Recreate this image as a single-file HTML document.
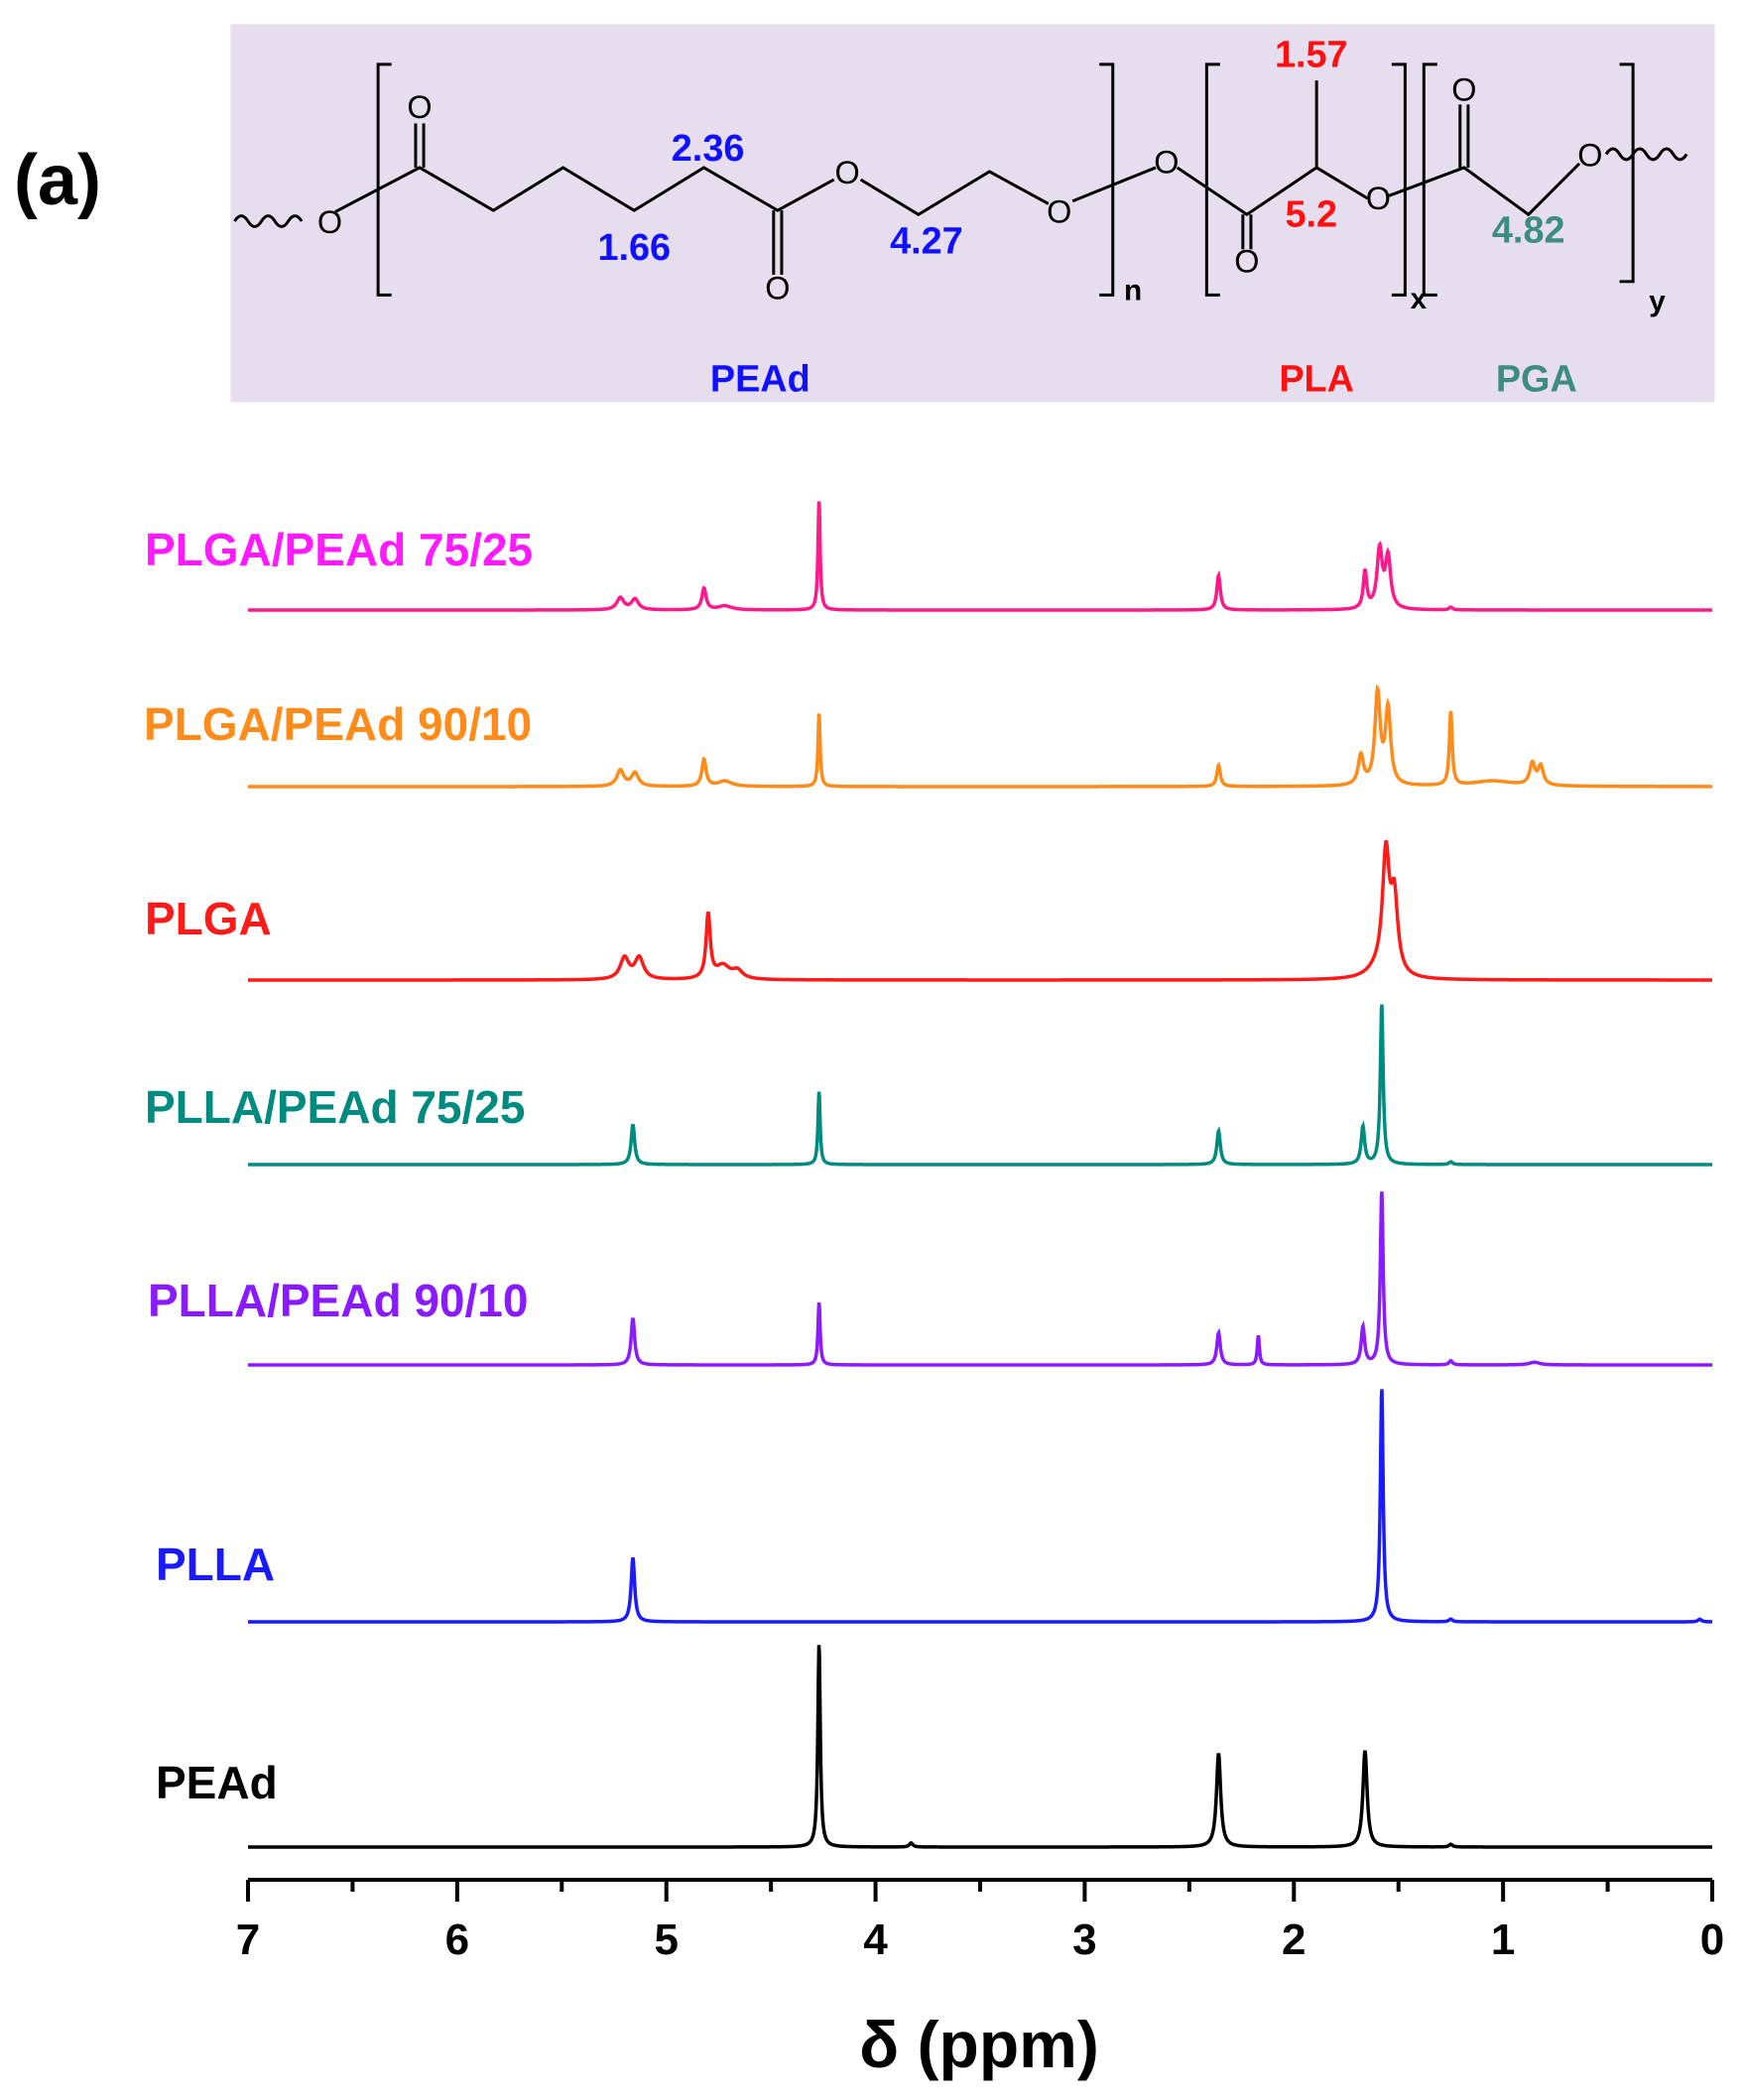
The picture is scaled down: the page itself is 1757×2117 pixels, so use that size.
<!DOCTYPE html>
<html><head><meta charset="utf-8"><style>
html,body{margin:0;padding:0;background:#fff;}
svg{display:block;font-family:"Liberation Sans",Arial,sans-serif;}
</style></head><body>
<svg id="chart" width="1757" height="2117" viewBox="0 0 1757 2117" xmlns="http://www.w3.org/2000/svg">
<g transform="scale(1.3515)">
  <rect x="172" y="18" width="1107" height="282" fill="#e6ddee"/>
  <g fill="none" stroke="#000" stroke-width="2.2">
    <path d="M175,165 q5,-8 10,0 q5,8 10,0 q5,-8 10,0 q5,8 10,0 q5,-8 10,0"/>
    <path d="M250,158 L313,125 L368,157 L420,125 L473,157 L525,125 L580,157 L622,134 M642,134 L685,160 L738,128 L782,152 M800,150 L862,125"/>
    <path d="M310,125 L310,92 M316,125 L316,92"/>
    <path d="M577,157 L577,205 M583,157 L583,205"/>
    <path d="M878,125 L930,160 L982,125 L1020,148 M982,125 L982,60 M1036,146 L1092,125 L1140,160 L1178,122"/>
    <path d="M927,160 L927,186 M933,160 L933,186"/>
    <path d="M1089,125 L1089,78 M1095,125 L1095,78"/>
    <path d="M1198,115 q5,-8 10,0 q5,8 10,0 q5,-8 10,0 q5,8 10,0 q5,-8 10,0 q5,8 10,0"/>
    <path d="M292,48 L282,48 L282,220 L292,220"/>
    <path d="M820,48 L830,48 L830,220 L820,220"/>
    <path d="M910,48 L900,48 L900,220 L910,220"/>
    <path d="M1038,48 L1048,48 L1048,220 L1038,220"/>
    <path d="M1072,48 L1062,48 L1062,220 L1072,220"/>
    <path d="M1208,48 L1218,48 L1218,210 L1208,210"/>
  </g>
  <g font-size="24" text-anchor="middle" fill="#000">
    <text x="246" y="174">O</text><text x="313" y="88">O</text><text x="580" y="223">O</text>
    <text x="632" y="137">O</text><text x="790" y="166">O</text><text x="870" y="129">O</text>
    <text x="930" y="203">O</text><text x="1028" y="156">O</text><text x="1092" y="75">O</text>
    <text x="1186" y="124">O</text>
    <text x="845" y="224" font-size="22" font-weight="bold">n</text><text x="1058" y="230" font-size="22" font-weight="bold">x</text><text x="1236" y="232" font-size="22" font-weight="bold">y</text>
  </g>
  <g font-size="28" font-weight="bold" text-anchor="middle">
    <text x="528" y="120" fill="#1010ff">2.36</text>
    <text x="473" y="194" fill="#1010ff">1.66</text>
    <text x="691" y="189" fill="#1010ff">4.27</text>
    <text x="978" y="50" fill="#ff1010">1.57</text>
    <text x="978" y="169" fill="#ff1010">5.2</text>
    <text x="1140" y="181" fill="#3d8c80">4.82</text>
    <text x="567" y="292" fill="#1010ff">PEAd</text>
    <text x="982" y="292" fill="#ff1010">PLA</text>
    <text x="1146" y="292" fill="#3d8c80">PGA</text>
  </g>
</g>
<text x="14" y="206" font-size="72" font-weight="bold">(a)</text>
<g id="spectra"></g>
<g id="axis"></g>
<text x="987" y="2084" font-size="66" font-weight="bold" text-anchor="middle">δ (ppm)</text>
</svg>
<script>
const seriesNames = ["PLGA/PEAd 75/25","PLGA/PEAd 90/10","PLGA","PLLA/PEAd 75/25","PLLA/PEAd 90/10","PLLA","PEAd"];
const seriesColors = ["#ff1a8c","#ff8c1a","#ff1a1a","#008b80","#8a1aff","#1a1aff","#000000"];
const labelColors = ["#ff1aff","#ff8c1a","#ff1a1a","#008b80","#8a1aff","#1a1aff","#000000"];
// peaks: [ppm, intensity, half-width ppm]
const peaks0 = [[5.22,9,0.02],[5.15,8,0.02],[4.82,16,0.012],[4.72,3,0.04],[4.27,82,0.006],[2.36,26,0.01],[1.66,28,0.01],[1.59,44,0.015],[1.55,38,0.015],[1.25,2,0.01]];
const peaks1 = [[5.22,12,0.02],[5.15,10,0.02],[4.82,20,0.012],[4.72,4,0.04],[4.27,55,0.006],[2.36,16,0.01],[1.68,22,0.015],[1.6,68,0.015],[1.55,56,0.015],[1.25,55,0.008],[1.05,4,0.12],[0.86,16,0.015],[0.82,14,0.015]];
const peaks2 = [[5.2,16,0.025],[5.13,16,0.025],[4.8,48,0.012],[4.73,10,0.04],[4.66,6,0.03],[1.56,88,0.02],[1.52,55,0.02],[1.6,6,0.06]];
const peaks3 = [[5.16,30,0.01],[4.27,55,0.006],[2.36,25,0.01],[1.67,28,0.01],[1.58,120,0.008],[1.25,2,0.01]];
const peaks4 = [[5.16,35,0.01],[4.27,47,0.006],[2.36,24,0.01],[2.17,22,0.006],[1.67,28,0.01],[1.58,130,0.008],[1.25,3,0.01],[0.85,2,0.03]];
const peaks5 = [[5.16,48,0.01],[1.58,175,0.008],[1.25,2,0.01],[0.06,2,0.01]];
const peaks6 = [[4.27,152,0.007],[3.83,3,0.01],[2.36,70,0.012],[1.66,72,0.012],[1.25,2,0.01]];
const allPeaks = [peaks0,peaks1,peaks2,peaks3,peaks4,peaks5,peaks6];
const baselines = [615,793,988,1174,1376,1635,1862];
const labelPos = [[146,570],[145,746],[146,942],[146,1132],[149,1327],[157,1593],[157,1813]];
const tickLabels = ["7","6","5","4","3","2","1","0"];
const xMin=0,xMax=7, X0=250, X1=1726;
const S=1.3515;
function xScale(p){return X0+(xMax-p)/(xMax-xMin)*(X1-X0);}
function yScale(base,v){return base-v*S;}
const NS="http://www.w3.org/2000/svg";
const g=document.getElementById('spectra');
allPeaks.forEach((pk,i)=>{
  let d="";
  for(let px=X0;px<=X1;px+=0.5){
    const p=xMax-(px-X0)/(X1-X0)*(xMax-xMin);
    let v=0; pk.forEach(([c,h,w])=>{const t=(p-c)/w; v+=h/(1+t*t);});
    d+=(d?"L":"M")+px.toFixed(1)+","+yScale(baselines[i],v).toFixed(2);
  }
  const path=document.createElementNS(NS,'path');
  
  
  path.setAttribute('d',d);path.setAttribute('fill','none');
  path.setAttribute('stroke',seriesColors[i]);path.setAttribute('stroke-width','3.5');
  g.appendChild(path);
  const t=document.createElementNS(NS,'text');
  
  
  t.setAttribute('x',labelPos[i][0]);t.setAttribute('y',labelPos[i][1]);
  t.setAttribute('font-size','46');t.setAttribute('font-weight','bold');
  t.setAttribute('fill',labelColors[i]);t.textContent=seriesNames[i];
  g.appendChild(t);
});
const ax=document.getElementById('axis');
const AY=1895;
let ad=`M${X0},${AY}L${X1},${AY}`;
for(let k=0;k<=14;k++){const p=k*0.5;const x=xScale(p);ad+=`M${x},${AY}L${x},${AY+(k%2==0?22:12)}`;}
const ap=document.createElementNS(NS,'path');


ap.setAttribute('d',ad);ap.setAttribute('stroke','#000');ap.setAttribute('stroke-width','4');ap.setAttribute('fill','none');
ax.appendChild(ap);
tickLabels.forEach((l)=>{
  const t=document.createElementNS(NS,'text');
  
  
  t.setAttribute('x',xScale(+l));t.setAttribute('y',1970);
  t.setAttribute('font-size','44');t.setAttribute('font-weight','bold');t.setAttribute('text-anchor','middle');
  t.textContent=l;ax.appendChild(t);
});
</script>
</body></html>
